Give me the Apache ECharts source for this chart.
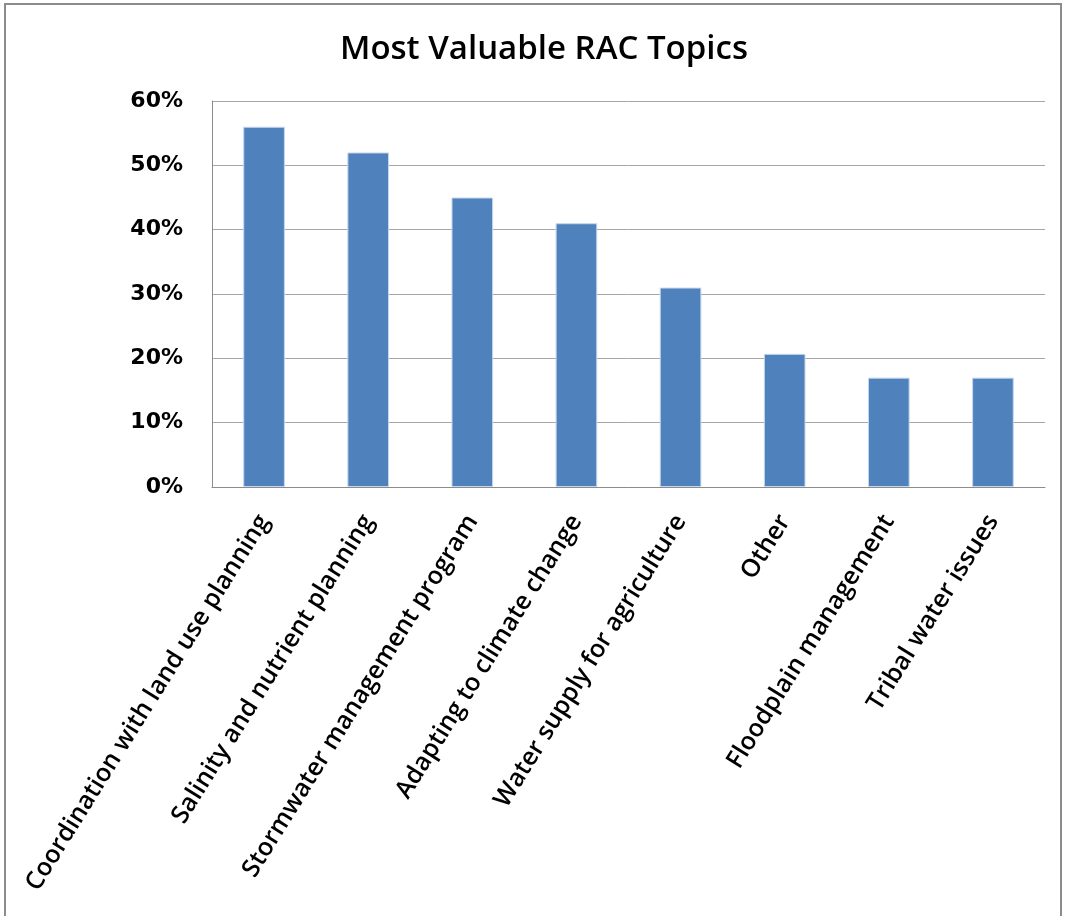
<!DOCTYPE html>
<html>
<head>
<meta charset="utf-8">
<script src="https://cdn.jsdelivr.net/npm/echarts@6/dist/echarts.min.js"></script>
<style>
  html, body { margin: 0; padding: 0; background: #fff; }
  #frame { position: absolute; left: 4px; top: 3px; width: 1058px; height: 940px; border: 2px solid #8c8c8c; box-sizing: border-box; }
  #chart { position: absolute; left: 0; top: 0; width: 1065px; height: 916px; }
</style>
</head>
<body>
<div id="frame"></div>
<div id="chart"></div>
<script>
const categories = [
  'Coordination with land use planning',
  'Salinity and nutrient planning',
  'Stormwater management program',
  'Adapting to climate change',
  'Water supply for agriculture',
  'Other',
  'Floodplain management',
  'Tribal water issues'
];
const shares = [56, 52, 45, 41, 31, 20.7, 17, 17];
const yTicks = [0, 10, 20, 30, 40, 50, 60];

const chart = echarts.init(document.getElementById('chart'), null, { renderer: 'canvas' });
chart.setOption({
  animation: false,
  backgroundColor: 'transparent',
  title: {
    text: 'Most Valuable RAC Topics',
    left: 335,
    top: 28,
    textStyle: { fontFamily: 'Open Sans', fontWeight: 600, fontSize: 33, color: '#000' }
  },
  grid: { left: 212, right: 20, top: 101, bottom: 429, containLabel: false },
  xAxis: {
    type: 'category',
    data: categories,
    axisLine: { show: true, lineStyle: { color: '#8c8c8c', width: 1 } },
    axisTick: { show: false },
    axisLabel: {
      rotate: 58,
      interval: 0,
      margin: 30,
      fontFamily: 'Open Sans',
      fontWeight: 600,
      fontSize: 25,
      color: '#000'
    }
  },
  yAxis: {
    type: 'value',
    min: yTicks[0],
    max: yTicks[yTicks.length - 1],
    interval: 10,
    axisLine: { show: true, lineStyle: { color: '#8c8c8c', width: 1 } },
    axisTick: { show: false },
    splitLine: { lineStyle: { color: '#a6a6a6', width: 1 } },
    axisLabel: {
      formatter: v => v + '%',
      margin: 29,
      fontFamily: 'DejaVu Sans',
      fontWeight: 'bold',
      fontSize: 22,
      color: '#000'
    }
  },
  series: [{
    type: 'bar',
    data: shares,
    barWidth: '40%',
    itemStyle: { color: '#4f81bd', borderColor: '#c6d7ec', borderWidth: 1 }
  }]
});
</script>
</body>
</html>
